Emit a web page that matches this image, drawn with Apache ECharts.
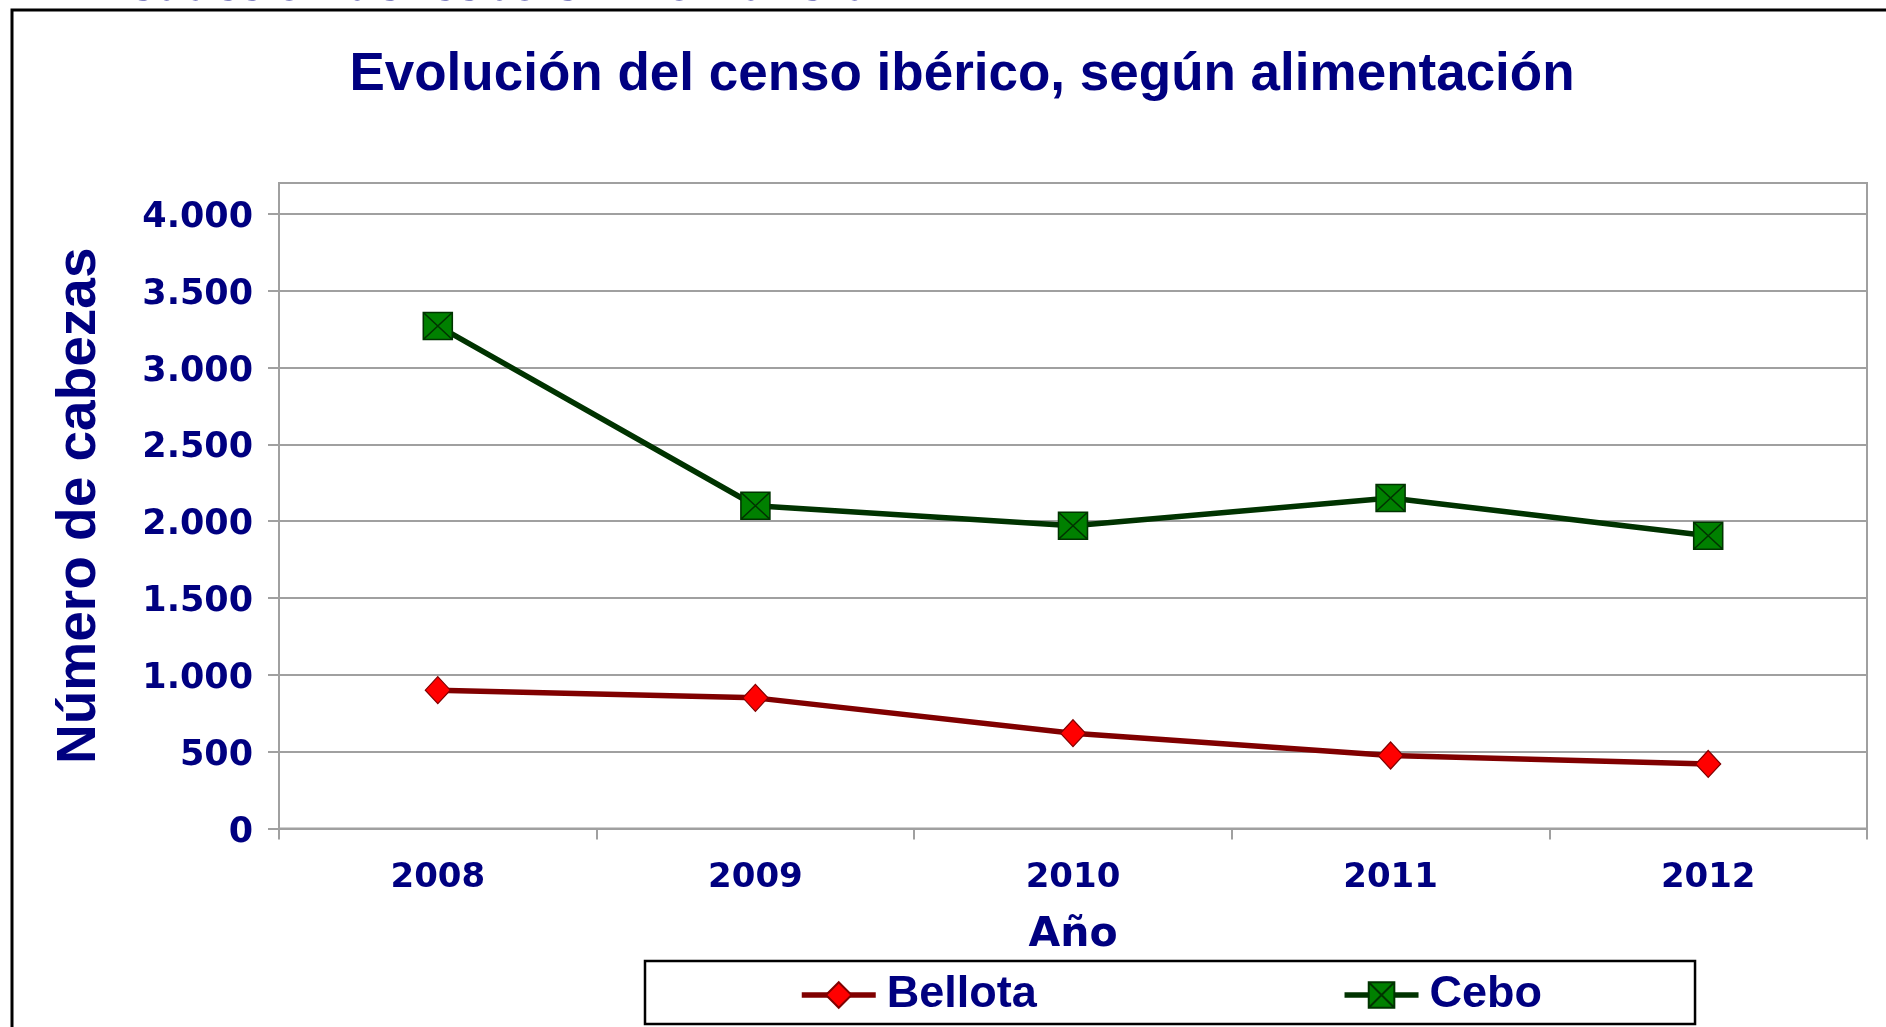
<!DOCTYPE html>
<html>
<head>
<meta charset="utf-8">
<script src="https://cdn.jsdelivr.net/npm/echarts@6/dist/echarts.min.js"></script>
<style>
html,body{margin:0;padding:0;background:#fff;}
#chart{width:1886px;height:1027px;}
</style>
</head>
<body>
<div id="chart"></div>
<script>
const years = ['2008', '2009', '2010', '2011', '2012'];
const bellota = [900, 850, 620, 475, 420];
const cebo = [3270, 2100, 1970, 2150, 1905];
const yTicks = [0, 500, 1000, 1500, 2000, 2500, 3000, 3500, 4000];
const titleText = 'Evolución del censo ibérico, según alimentación';
const topText = 'reducción del cebo en montanera';

const navy = '#000080';
const gridGray = '#a0a0a0';
const fmt = v => String(v).replace(/\B(?=(\d{3})+(?!\d))/g, '.');

const chart = echarts.init(document.getElementById('chart'), null, {renderer: 'canvas'});
chart.setOption({
  animation: false,
  backgroundColor: '#fff',
  title: {
    text: titleText,
    left: 957,
    textAlign: 'center',
    top: 44,
    textStyle: {fontFamily: 'Liberation Sans', fontWeight: 'bold', fontSize: 53, color: navy}
  },
  graphic: [
    {type: 'rect', shape: {x: 12, y: 10, width: 2400, height: 2400}, style: {fill: 'none', stroke: '#000', lineWidth: 3}, silent: true},
    {type: 'text', x: 108, y: 10, style: {text: topText, fontFamily: 'DejaVu Sans', fontWeight: 'bold', fontSize: 40.5, fill: navy, textVerticalAlign: 'bottom'}}
  ],
  grid: {
    left: 279, top: 183, right: 19, bottom: 198.5,
    show: true, borderColor: gridGray, borderWidth: 2, backgroundColor: 'transparent'
  },
  legend: {
    left: 645, top: 961,
    padding: [9, 153, 4, 154],
    borderColor: '#000', borderWidth: 2.5,
    itemWidth: 74, itemHeight: 32, itemGap: 305,
    lineStyle: {width: 5.5},
    textStyle: {fontFamily: 'Liberation Sans', fontWeight: 'bold', fontSize: 45, color: navy, lineHeight: 50, padding: [0, 0, 0, 6]},
    data: ['Bellota', 'Cebo']
  },
  xAxis: {
    type: 'category',
    data: years,
    boundaryGap: true,
    name: 'Año',
    nameLocation: 'middle',
    nameGap: 86,
    nameTextStyle: {fontFamily: 'DejaVu Sans', fontWeight: 'bold', fontSize: 41, color: navy},
    axisLine: {lineStyle: {color: gridGray, width: 2}},
    axisTick: {show: true, interval: 0, length: 11, lineStyle: {color: gridGray, width: 2}},
    axisLabel: {margin: 33, fontFamily: 'DejaVu Sans', fontWeight: 'bold', fontSize: 34, color: navy},
    splitLine: {show: false}
  },
  yAxis: {
    type: 'value',
    min: 0, max: 4200, interval: 500,
    name: 'Número de cabezas',
    nameLocation: 'middle',
    nameGap: 172,
    nameRotate: 90,
    nameTextStyle: {fontFamily: 'Liberation Sans', fontWeight: 'bold', fontSize: 55, color: navy},
    axisLine: {show: true, lineStyle: {color: gridGray, width: 2}},
    axisTick: {show: true, length: 11, customValues: yTicks, lineStyle: {color: gridGray, width: 2}},
    axisLabel: {margin: 26, customValues: yTicks, formatter: fmt, fontFamily: 'DejaVu Sans', fontWeight: 'bold', fontSize: 35, color: navy, verticalAlign: 'top', lineHeight: 8},
    splitLine: {show: true, lineStyle: {color: gridGray, width: 2}}
  },
  series: [
    {
      name: 'Bellota',
      type: 'line',
      data: bellota,
      symbol: 'diamond',
      symbolSize: [25, 27],
      lineStyle: {color: '#800000', width: 5.5},
      itemStyle: {color: '#ff0000', borderColor: '#800000', borderWidth: 1.2},
      z: 3
    },
    {
      name: 'Cebo',
      type: 'line',
      data: cebo,
      symbol: 'path://M0,0L10,0L10,10L0,10ZM0,0L10,10M10,0L0,10',
      symbolSize: [29, 27],
      lineStyle: {color: '#003300', width: 5.5},
      itemStyle: {color: '#008000', borderColor: '#003300', borderWidth: 1.5},
      z: 3
    }
  ]
});
</script>
</body>
</html>
